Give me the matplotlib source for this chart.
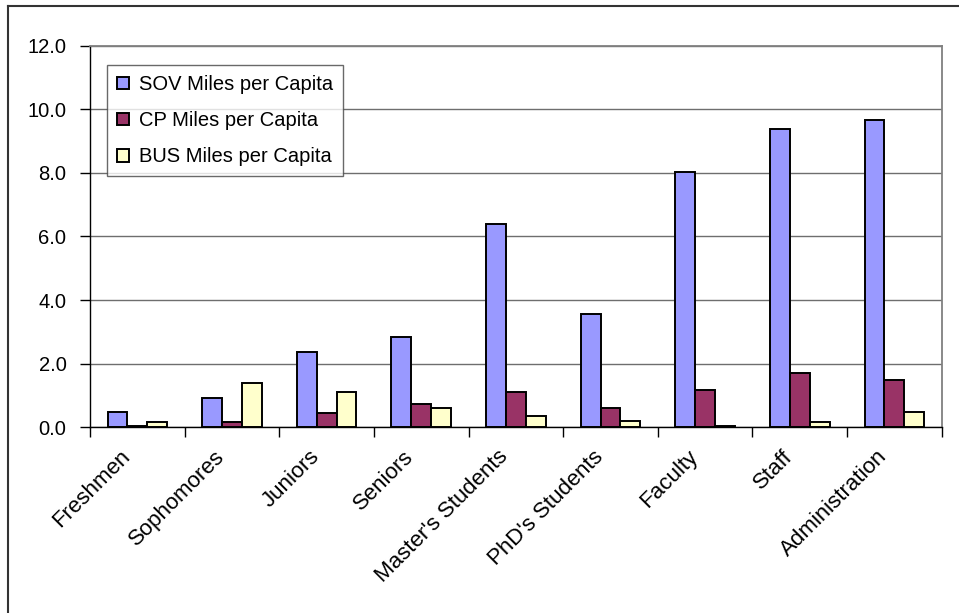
import matplotlib
matplotlib.use("Agg")
import matplotlib.pyplot as plt
import numpy as np
from matplotlib.lines import Line2D
from matplotlib.transforms import ScaledTranslation

categories = ["Freshmen", "Sophomores", "Juniors", "Seniors", "Master's Students",
              "PhD's Students", "Faculty", "Staff", "Administration"]
sov = [0.49, 0.93, 2.38, 2.83, 6.40, 3.57, 8.03, 9.37, 9.67]
cp = [0.05, 0.18, 0.44, 0.74, 1.12, 0.62, 1.18, 1.70, 1.50]
bus = [0.18, 1.38, 1.12, 0.62, 0.37, 0.19, 0.05, 0.18, 0.49]
series_names = ["SOV Miles per Capita", "CP Miles per Capita", "BUS Miles per Capita"]
colors = ["#9999FF", "#993366", "#FFFFCC"]
yticks = [0, 2, 4, 6, 8, 10, 12]

plt.rcParams['font.family'] = ['Liberation Sans', 'DejaVu Sans']

W, H = 959, 613
fig = plt.figure(figsize=(W / 100, H / 100), dpi=100)
ax = fig.add_axes([90 / W, 1 - 427.3 / H, (941.7 - 90) / W, (427.3 - 45.5) / H])

x = np.arange(len(categories))
bw = 0.21
for i, (vals, name, c) in enumerate(zip([sov, cp, bus], series_names, colors)):
    ax.bar(x + (i - 1) * bw, vals, width=bw, color=c, edgecolor="black",
           linewidth=1.4, label=name, zorder=3)

FS = 14.5
XFS = 16
ax.set_xlim(-0.5, len(categories) - 0.5)
ax.set_ylim(0, 12)
ax.set_yticks(yticks)
ax.set_yticklabels([f"{v:.1f}" for v in yticks], fontsize=FS)
ax.yaxis.grid(True, color="#6e6e6e", linewidth=1.0, zorder=0)
ax.set_axisbelow(True)

ax.set_xticks(x)
ax.set_xticklabels([])
ax.tick_params(axis="x", which="major", length=0)
ax.set_xticks(np.arange(-0.5, len(categories), 1.0), minor=True)
ax.tick_params(axis="x", which="minor", length=7, width=1.0, direction="out", color="black")
ax.tick_params(axis="y", length=7, width=1.0, direction="out", pad=10, color="black")

off = ScaledTranslation(-18 / 100, -19 / 100, fig.dpi_scale_trans)
for xi, lab in zip(x, categories):
    ax.text(xi, 0, lab, transform=ax.get_xaxis_transform() + off, rotation=45,
            ha="right", va="top", rotation_mode="anchor", fontsize=XFS)

for s in ["left", "bottom"]:
    ax.spines[s].set_color("black")
    ax.spines[s].set_linewidth(1.0)
for s in ["top", "right"]:
    ax.spines[s].set_color("#808080")
    ax.spines[s].set_linewidth(1.3)

leg = fig.legend(loc="upper left", bbox_to_anchor=(107.3 / W, 1 - 65 / H),
                 fontsize=FS, frameon=True, fancybox=False, edgecolor="#444444",
                 handlelength=0.6, handleheight=0.6, handletextpad=0.45,
                 labelspacing=0.85, borderpad=0.5, borderaxespad=0)
leg.get_frame().set_linewidth(1.0)

# outer chart frame (partially visible)
fig.add_artist(Line2D([8 / W, 8 / W], [0, 1 - 6 / H], transform=fig.transFigure,
                      color="#333333", linewidth=1.5))
fig.add_artist(Line2D([8 / W, 1], [1 - 6 / H, 1 - 6 / H], transform=fig.transFigure,
                      color="#333333", linewidth=1.5))

fig.savefig("out.png", dpi=100)
